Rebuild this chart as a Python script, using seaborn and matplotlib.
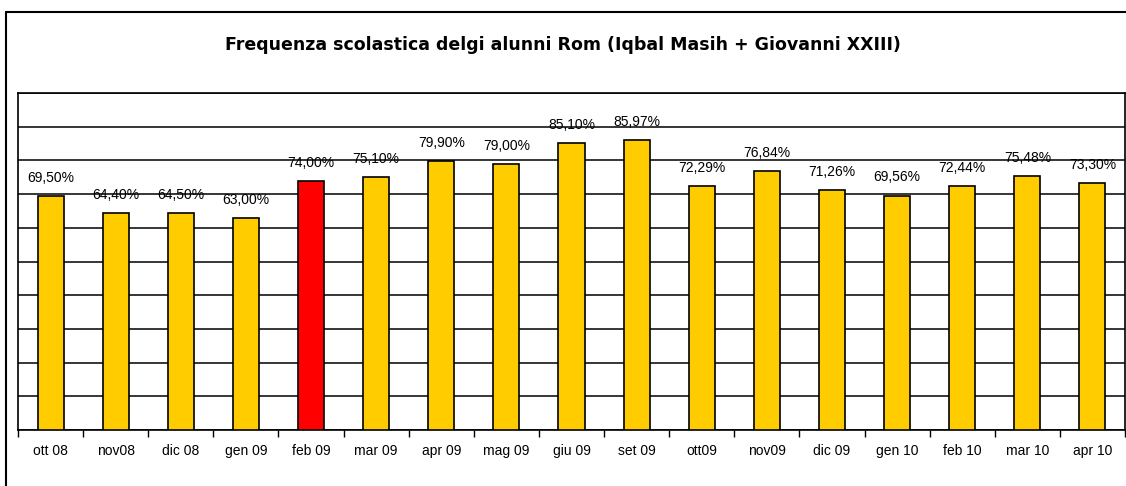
import numpy as np
import pandas as pd
import matplotlib.pyplot as plt
import seaborn as sns
from matplotlib.lines import Line2D

# Monthly attendance values (percent)
months = ['ott 08', 'nov08', 'dic 08', 'gen 09', 'feb 09', 'mar 09', 'apr 09', 'mag 09', 'giu 09',
          'set 09', 'ott09', 'nov09', 'dic 09', 'gen 10', 'feb 10', 'mar 10', 'apr 10']
values = [69.50, 64.40, 64.50, 63.00, 74.00, 75.10, 79.90, 79.00, 85.10,
          85.97, 72.29, 76.84, 71.26, 69.56, 72.44, 75.48, 73.30]
highlight = 'feb 09'

df = pd.DataFrame({'mese': months, 'frequenza': values})
colors = {m: ('#ff0000' if m == highlight else '#ffcc00') for m in months}

sns.set_style('white')
plt.rcParams['font.family'] = ['Liberation Sans', 'DejaVu Sans']

fig = plt.figure(figsize=(11.26, 4.86), dpi=100)
ax = fig.add_axes([18 / 1126, 1 - 430 / 486, 1107 / 1126, (430 - 93) / 486])

sns.barplot(data=df, x='mese', y='frequenza', hue='mese', palette=colors, legend=False,
            saturation=1, width=0.4, edgecolor='black', linewidth=1.2, ax=ax, zorder=3)

# value labels above bars
for cont, v in zip(ax.containers, values):
    ax.bar_label(cont, labels=[f'{v:.2f}%'.replace('.', ',')], padding=8,
                 fontsize=10, color='black')

ax.set_ylim(0, 100)
ax.set_xlim(-0.5, len(months) - 0.5)
ax.set_yticks(np.arange(0, 101, 10))
ax.set_yticklabels([])
ax.yaxis.grid(True, color='black', linewidth=1.1, zorder=0)
ax.set_axisbelow(True)
ax.tick_params(axis='y', length=0, left=False)
ax.tick_params(axis='x', which='major', length=0, pad=10, labelsize=10, labelcolor='black')
ax.set_xticks(np.arange(-0.5, len(months), 1), minor=True)
ax.tick_params(axis='x', which='minor', bottom=True, length=5, width=1, color='black',
               direction='out')
ax.set_xlabel('')
ax.set_ylabel('')
for s in ax.spines.values():
    s.set_visible(True)
    s.set_color('black')
    s.set_linewidth(1.2)

fig.text(0.5, 1 - 45 / 486, 'Frequenza scolastica delgi alunni Rom (Iqbal Masih + Giovanni XXIII)',
         ha='center', va='center', fontsize=12.5, fontweight='bold', color='black',
         family=['DejaVu Sans'])

# outer chart frame
fig.add_artist(Line2D([6 / 1126, 6 / 1126], [0, 1 - 12 / 486], color='black', linewidth=1.5,
                      transform=fig.transFigure))
fig.add_artist(Line2D([6 / 1126, 1], [1 - 12 / 486, 1 - 12 / 486], color='black', linewidth=1.5,
                      transform=fig.transFigure))

fig.savefig('out.png', dpi=100)
